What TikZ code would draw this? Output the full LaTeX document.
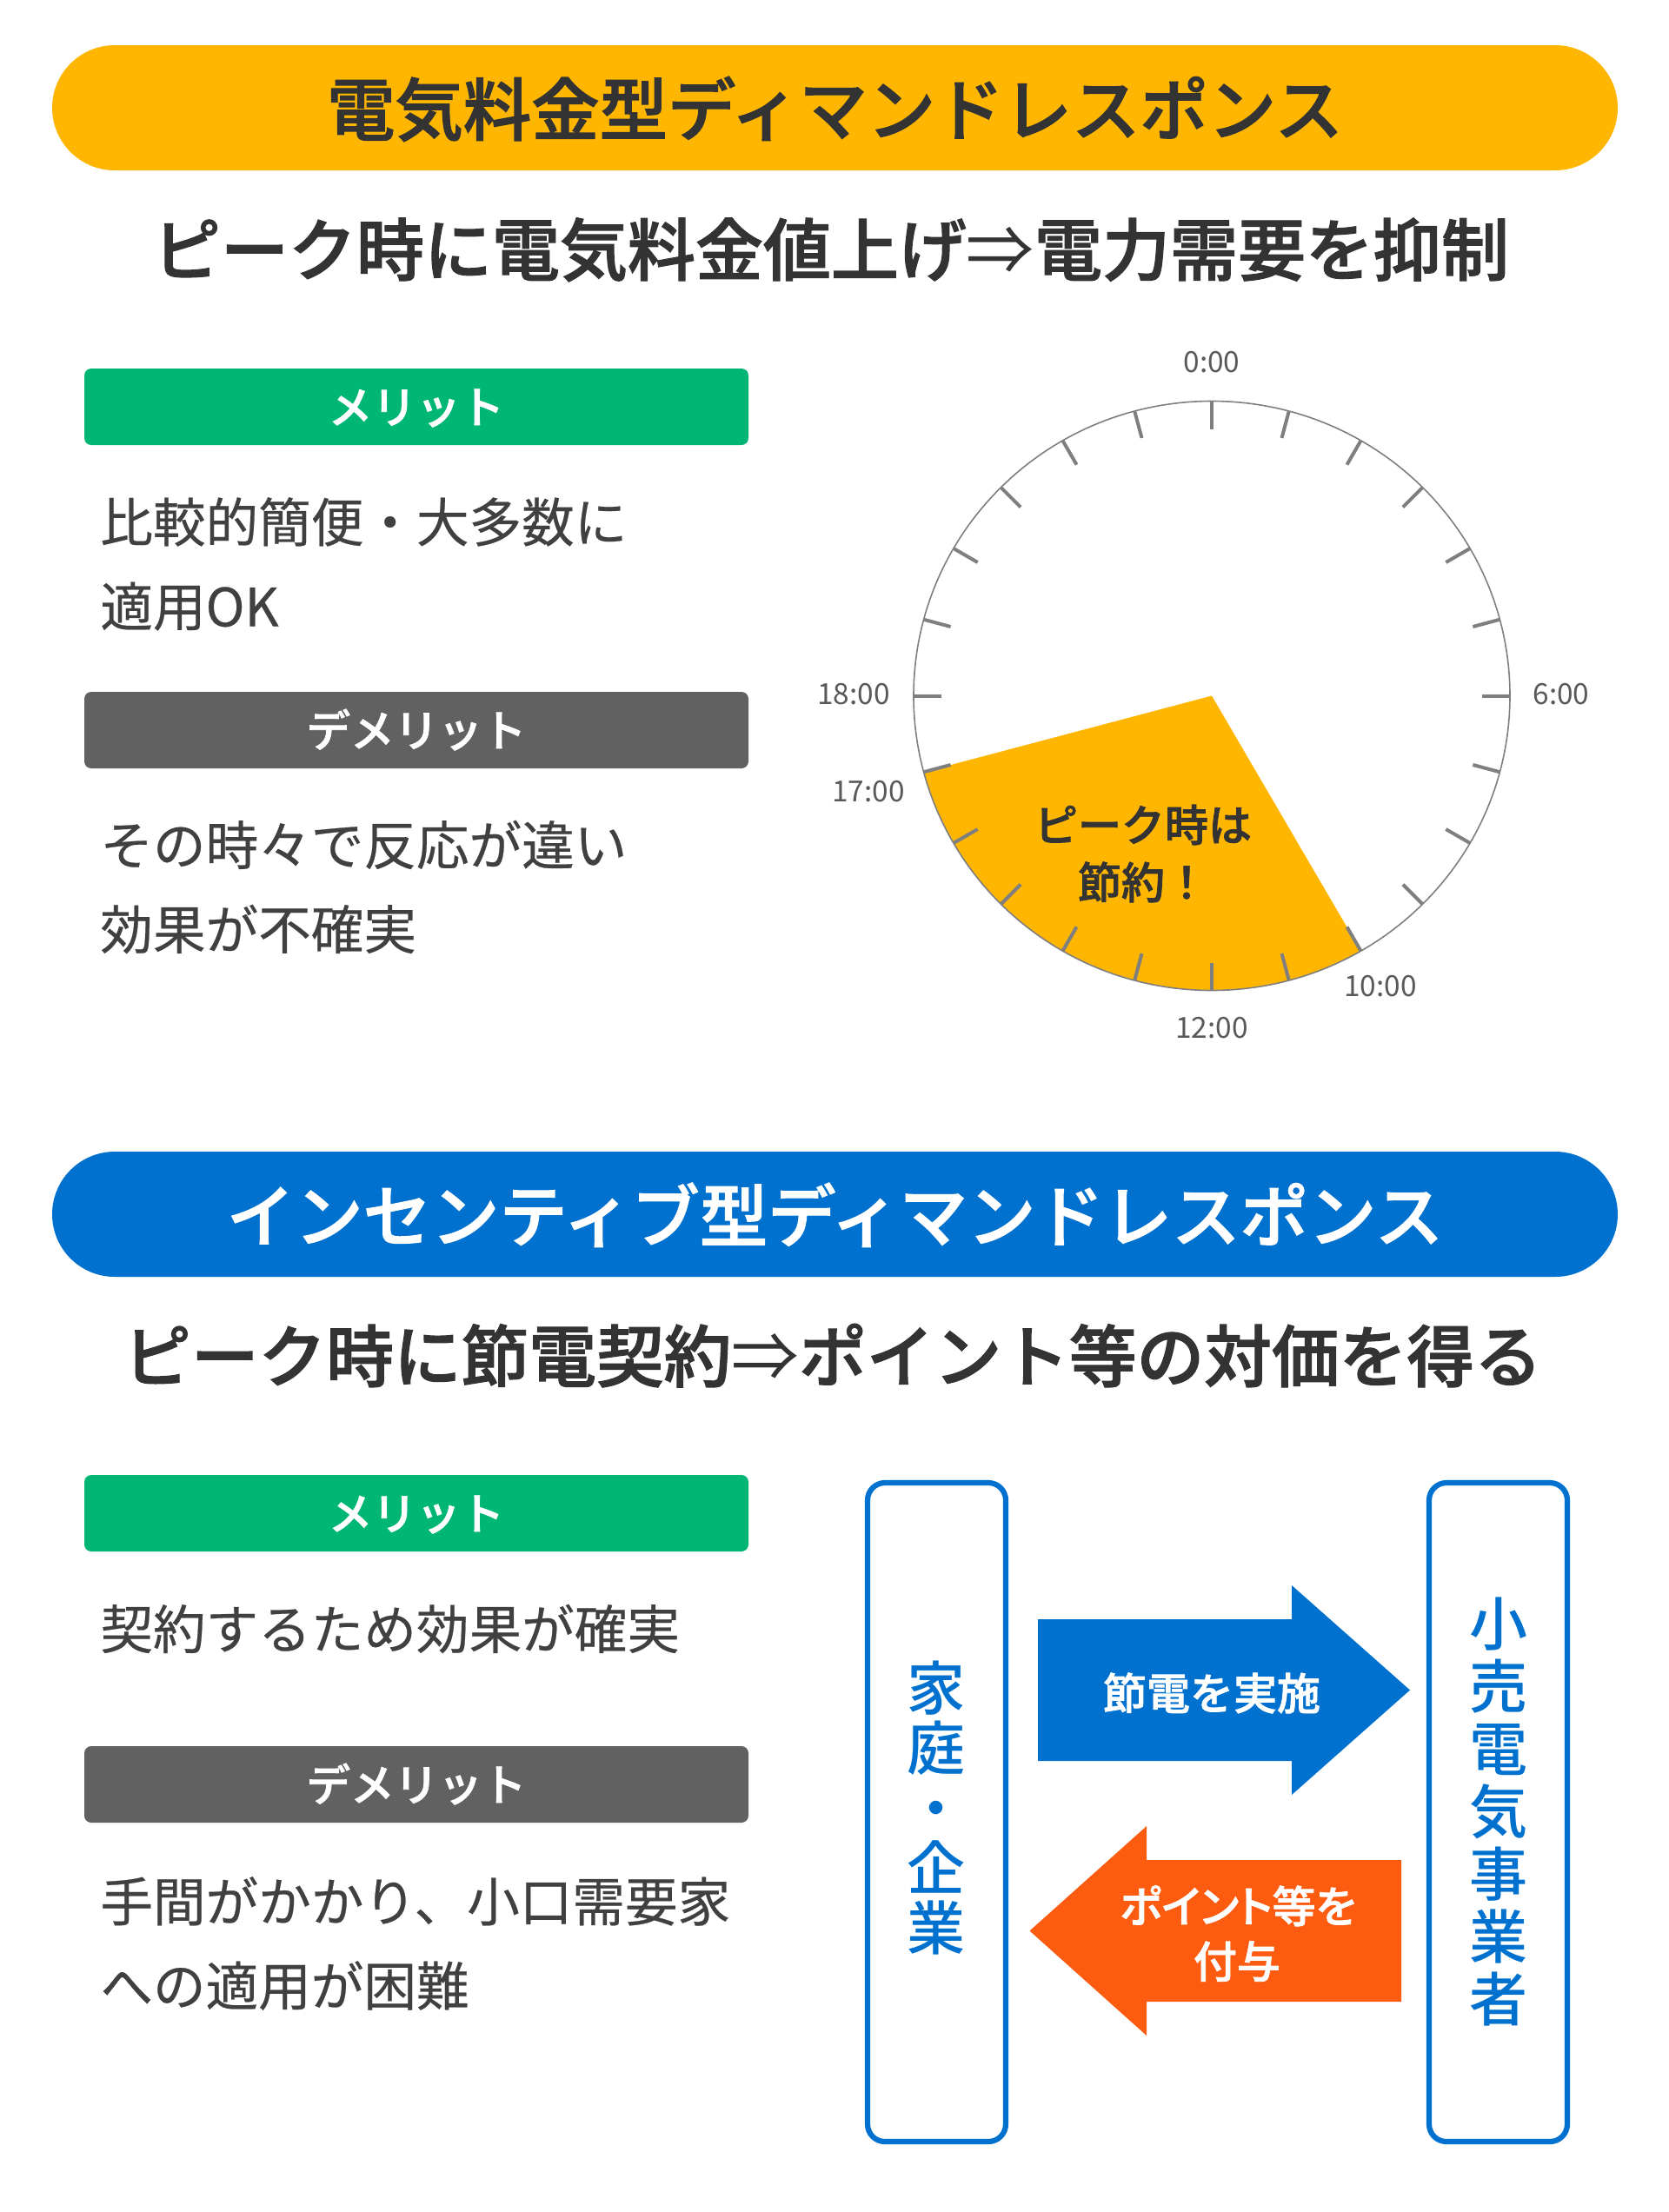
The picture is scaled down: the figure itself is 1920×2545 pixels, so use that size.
\documentclass[tikz,border=0pt]{standalone}
\usepackage{fontspec}
\setmainfont{Noto Sans CJK JP}
\newfontfamily\medfont{Noto Sans CJK JP Medium}
\newfontfamily\headfont[FakeBold=1.6]{Noto Sans CJK JP Medium}
\newfontfamily\bodyfont[FakeBold=0.4]{Noto Sans CJK JP}
\definecolor{amberc}{HTML}{FFB600}
\definecolor{bluec}{HTML}{0071CE}
\definecolor{greenc}{HTML}{00B674}
\definecolor{grayc}{HTML}{616161}
\definecolor{orangec}{HTML}{FD5C10}
\definecolor{inkc}{HTML}{333333}
\definecolor{bodyc}{HTML}{404040}
\definecolor{tickc}{HTML}{7F7F7F}
\definecolor{labelc}{HTML}{595959}
\tikzset{
  fs/.style={font=\fontsize{#1}{#1}\selectfont,text height=.88*#1 pt,text depth=.12*#1 pt,inner sep=0pt},
  fb/.style={font=\fontsize{#1}{#1}\selectfont\headfont,text height=.88*#1 pt,text depth=.12*#1 pt,inner sep=0pt},
  titlebar/.style={fb=39.2,text depth=.08*39.2pt,rounded corners=36pt,minimum width=900.5pt,minimum height=72pt,text=inkc},
  subtitle/.style={fb=#1,text=inkc},
  tagbox/.style={fb=25.3,rounded corners=4pt,minimum width=382pt,minimum height=44pt,text=white},
  body/.style={font=\fontsize{30.3}{48.5}\selectfont\bodyfont,inner sep=0pt,anchor=west,align=left,text=bodyc},
  clocklabel/.style={fs=16.7,text=labelc},
  peak/.style={fb=25,text=inkc},
  party/.style={draw=bluec,line width=3.1pt,rounded corners=10pt,minimum width=79.5pt,minimum height=379pt,inner sep=0pt},
  vtext/.style={font=\fontsize{33.5}{#1}\selectfont\medfont,align=center,inner sep=0pt,text=bluec},
  flowtext/.style={fb=25,text=white},
  tickmark/.style={draw=tickc,line width=2pt},
}
\newcommand{\thinarrow}{{\fontspec{Noto Sans CJK JP}⇒}}
\begin{document}
\begin{tikzpicture}[x=.5pt,y=-.5pt]
\useasboundingbox (0,0) rectangle (1920,2545);
% --- section 1
\node[titlebar,fill=amberc] (bar1) at (960.5,124) {電気料金型ディマンドレスポンス};
\node[subtitle=39] (sub1) at (956,287) {ピーク時に電気料金値上げ\thinarrow 電力需要を抑制};
\node[tagbox,fill=greenc] (merit1) at (479,468) {メリット};
\node[body] (mtext1) at (115,649) {比較的簡便・大多数に\\適用OK};
\node[tagbox,fill=grayc] (demerit1) at (479,840) {デメリット};
\node[body] (dtext1) at (115,1020.5) {その時々で反応が違い\\効果が不確実};
% --- clock
\coordinate (c) at (1394,800.5);
\fill[amberc] (c) -- (1565.5,1094.1) arc[start angle=-60,end angle=-165,x radius=171.5pt,y radius=169.5pt] -- cycle;
\draw[tickc,line width=.8pt] (c) ellipse [x radius=171.5pt,y radius=169.5pt];
\foreach \a in {0,15,...,345}{
  \draw[tickmark] ({1394+343*sin(\a)},{800.5-339*cos(\a)}) -- ({1394+311*sin(\a)},{800.5-307*cos(\a)});
}
\node[clocklabel] (l0) at (1394,415.5) {0:00};
\node[clocklabel] (l6) at (1796,797.5) {6:00};
\node[clocklabel] (l18) at (982,797.5) {18:00};
\node[clocklabel] (l17) at (999,909.5) {17:00};
\node[clocklabel] (l10) at (1588,1133.5) {10:00};
\node[clocklabel] (l12) at (1394,1181.5) {12:00};
\node[peak] (p1) at (1315,949) {ピーク時は};
\node[peak] (p2) at (1315,1015) {節約！};
% --- section 2
\node[titlebar,fill=bluec,text=white] (bar2) at (960.5,1397) {インセンティブ型ディマンドレスポンス};
\node[subtitle=38.85] (sub2) at (958,1560) {ピーク時に節電契約\thinarrow ポイント等の対価を得る};
\node[tagbox,fill=greenc] (merit2) at (479,1741) {メリット};
\node[body] (mtext2) at (115,1874) {契約するため効果が確実};
\node[tagbox,fill=grayc] (demerit2) at (479,2053) {デメリット};
\node[body] (dtext2) at (115,2236) {手間がかかり、小口需要家\\への適用が困難};
% --- flow
\node[party] (home) at (1077.5,2085) {};
\node[party] (retail) at (1723.5,2085) {};
\node[vtext=34.5] (hometext) at (1077,2080.5) {家\\庭\\・\\企\\業};
\node[vtext=36] (retailtext) at (1724,2085) {小\\売\\電\\気\\事\\業\\者};
\fill[bluec] (1194,1863) -- (1486,1863) -- (1486,1824) -- (1622,1944.5) -- (1486,2065) -- (1486,2026) -- (1194,2026) -- cycle;
\fill[orangec] (1612,2140) -- (1319,2140) -- (1319,2101) -- (1184.5,2221.5) -- (1319,2342) -- (1319,2303) -- (1612,2303) -- cycle;
\node[flowtext] (save) at (1394,1948) {節電を実施};
\node[flowtext] (pt1) at (1424,2193) {\addfontfeature{RawFeature=+palt}ポイント等を};
\node[flowtext] (pt2) at (1423,2256.5) {付与};
\end{tikzpicture}
\end{document}
